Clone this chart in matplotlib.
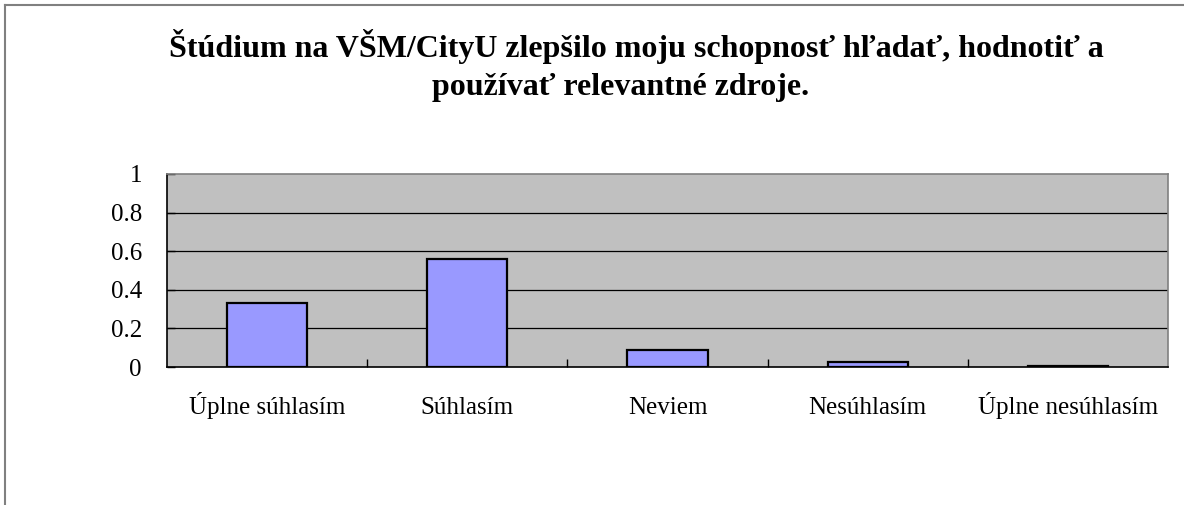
import matplotlib.pyplot as plt
import numpy as np

# Data
categories = ['Úplne súhlasím', 'Súhlasím', 'Neviem', 'Nesúhlasím', 'Úplne nesúhlasím']
shares = [0.33, 0.56, 0.09, 0.025, 0.007]
yticks = [0, 0.2, 0.4, 0.6, 0.8, 1]
ytick_labels = ['0', '0.2', '0.4', '0.6', '0.8', '1']
title_lines = ['Štúdium na VŠM/CityU zlepšilo moju schopnosť hľadať, hodnotiť a',
               'používať relevantné zdroje.']

plt.rcParams['font.family'] = ['Liberation Serif', 'DejaVu Serif']

fig = plt.figure(figsize=(11.84, 5.05), dpi=100)
W, H = 1184, 505
# plot area in pixels: x 167..1168, y 174..367
ax = fig.add_axes([167 / W, 1 - 367 / H, (1168 - 167) / W, (367 - 174) / H])

x = np.arange(len(categories))
ax.bar(x, shares, width=0.4, color='#9999FF', edgecolor='black', linewidth=1.6, zorder=3)

ax.set_facecolor('#C0C0C0')
ax.set_xlim(-0.5, len(categories) - 0.5)
ax.set_ylim(0, 1)
ax.set_yticks(yticks)
ax.set_yticklabels(ytick_labels, fontsize=18)
for y in yticks[1:-1]:
    ax.axhline(y, color='black', linewidth=0.9, zorder=1)

ax.set_xticks(x)
ax.set_xticklabels(categories, fontsize=18)
# baseline-align category labels so accents don't shift them
for lbl in ax.get_xticklabels():
    lbl.set_verticalalignment('baseline')
ax.tick_params(axis='x', length=0, pad=34)
ax.set_xticks(np.arange(0.5, len(categories) - 0.5), minor=True)
ax.tick_params(axis='x', which='minor', direction='in', length=6, width=1, color='black')
ax.tick_params(axis='y', direction='in', length=6, width=1, pad=18)

ax.spines['left'].set_color('black')
ax.spines['bottom'].set_color('black')
ax.spines['left'].set_linewidth(1.2)
ax.spines['bottom'].set_linewidth(1.2)
ax.spines['top'].set_color('#808080')
ax.spines['right'].set_color('#808080')
ax.spines['top'].set_linewidth(1.2)
ax.spines['right'].set_linewidth(1.2)

# title, two centred lines
fig.text(636 / W, 1 - 57 / H, title_lines[0], ha='center', va='baseline',
         fontsize=23, fontweight='bold')
fig.text(621 / W, 1 - 95 / H, title_lines[1], ha='center', va='baseline',
         fontsize=23, fontweight='bold')

# chart frame (top and left edges visible)
fig.add_artist(plt.Line2D([5 / W, 1], [1 - 5 / H, 1 - 5 / H], color='#808080', linewidth=1.5))
fig.add_artist(plt.Line2D([5 / W, 5 / W], [0, 1 - 5 / H], color='#808080', linewidth=1.5))

fig.savefig('out.png', dpi=100)
